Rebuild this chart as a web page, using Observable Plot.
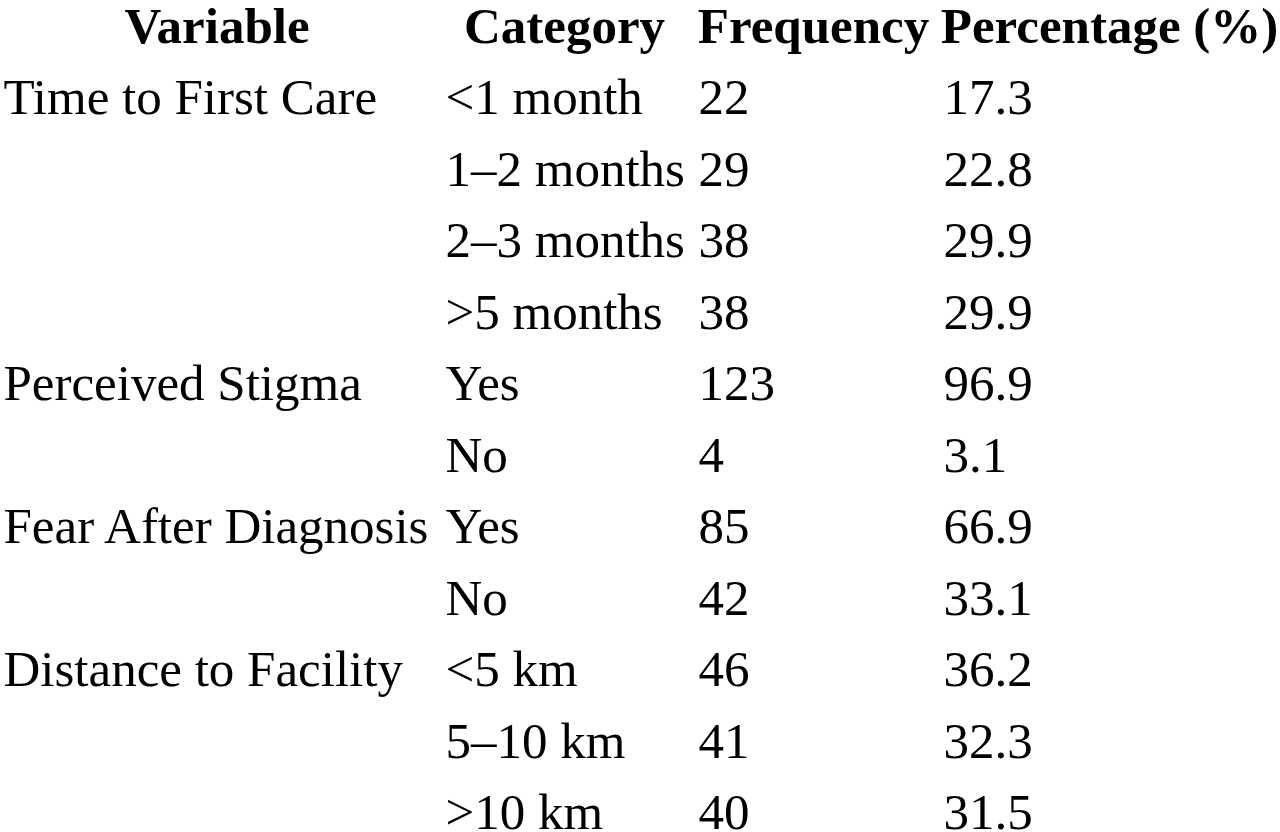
<!DOCTYPE html>
<html>
<head>
<meta charset="utf-8">
<script src="https://cdn.jsdelivr.net/npm/d3@7"></script>
<script src="https://cdn.jsdelivr.net/npm/@observablehq/plot@0.6"></script>
<style>
  html, body { margin: 0; padding: 0; background: #fff; }
  #chart svg { display: block; }
</style>
</head>
<body>
<div id="chart"></div>
<script>
// ---- data ----
const headers = ["Variable", "Category", "Frequency", "Percentage (%)"];
const variables = ["Time to First Care", "", "", "", "Perceived Stigma", "", "Fear After Diagnosis", "", "Distance to Facility", "", ""];
const categories = ["<1 month", "1–2 months", "2–3 months", ">5 months", "Yes", "No", "Yes", "No", "<5 km", "5–10 km", ">10 km"];
const frequencies = [22, 29, 38, 38, 123, 4, 85, 42, 46, 41, 40];
const percentages = ["17.3", "22.8", "29.9", "29.9", "96.9", "3.1", "66.9", "33.1", "36.2", "32.3", "31.5"];

// ---- layout (column edges in pixels) ----
const colLeft = [3, 445, 698, 943];
const colRight = [430, 683, 928, 1275];
const fontSize = 51;
const font = "'Liberation Serif', 'Times New Roman', serif";

const cells = [];
categories.forEach((c, i) => {
  const row = i + 1;
  cells.push({row, col: 0, text: variables[i]});
  cells.push({row, col: 1, text: c});
  cells.push({row, col: 2, text: String(frequencies[i])});
  cells.push({row, col: 3, text: percentages[i]});
});
const headerCells = headers.map((h, col) => ({row: 0, col, text: h}));

const chart = Plot.plot({
  width: 1280,
  height: 832,
  margin: 0,
  style: {background: "#fff", color: "#000"},
  x: {type: "linear", domain: [0, 1280], range: [0, 1280], axis: null},
  y: {type: "linear", domain: [0, 11], range: [25.7, 812.6], axis: null},
  marks: [
    Plot.text(headerCells, {
      x: d => (colLeft[d.col] + colRight[d.col]) / 2,
      y: "row",
      text: "text",
      textAnchor: "middle",
      fontSize,
      fontWeight: "bold",
      fontFamily: font,
      fill: "#000"
    }),
    Plot.text(cells, {
      x: d => colLeft[d.col],
      y: "row",
      text: "text",
      textAnchor: "start",
      fontSize,
      fontFamily: font,
      fill: "#000"
    })
  ]
});
document.getElementById("chart").appendChild(chart);
</script>
</body>
</html>
